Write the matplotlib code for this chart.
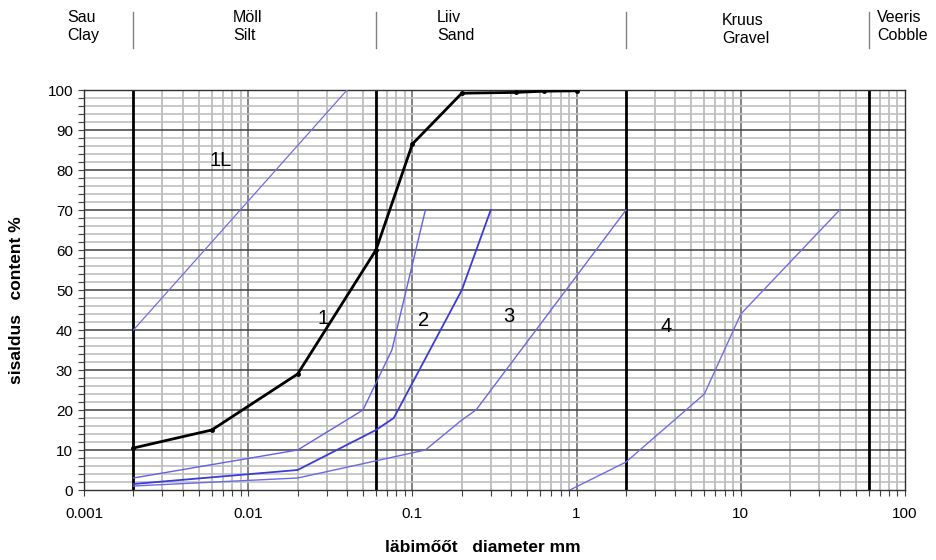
import numpy as np
import matplotlib
matplotlib.use('Agg')
import matplotlib.pyplot as plt
from matplotlib.ticker import FixedLocator, NullFormatter, FixedFormatter

plt.rcParams['font.family'] = ['Liberation Sans', 'DejaVu Sans']

# curve 1 (black, measured)
d1 = [0.002, 0.006, 0.02, 0.06, 0.1, 0.2, 0.425, 0.63, 1.0]
p1 = [10.5, 15, 29, 60, 86.5, 99.2, 99.4, 99.7, 99.8]

# blue boundary curves
d1L = [0.002, 0.04]
p1L = [40, 100]

d2a = [0.002, 0.02, 0.05, 0.075, 0.12]
p2a = [3, 10, 20, 35, 70]

d2 = [0.002, 0.02, 0.06, 0.077, 0.2, 0.3]
p2 = [1.5, 5, 15, 18, 50, 70]

d3 = [0.002, 0.02, 0.12, 0.2, 0.244, 2.0]
p3 = [1, 3, 10, 17.5, 20, 70]

d4 = [0.91, 2.0, 6.0, 10.0, 40.0]
p4 = [0, 7, 24, 44, 70]

# fraction boundaries
borders = [0.002, 0.06, 2, 60]
fractions = [('Sau\nClay', 67, 10), ('Möll\nSilt', 233, 10), ('Liiv\nSand', 437, 10),
             ('Kruus\nGravel', 722, 13), ('Veeris\nCobble', 877, 10)]

curve_labels = [('1L', 0.0068, 82.5), ('1', 0.0285, 43), ('2', 0.117, 42.5),
                ('3', 0.385, 43.5), ('4', 3.5, 41)]

W, H = 937, 560
fig = plt.figure(figsize=(W / 100, H / 100), dpi=100)
ax = fig.add_axes([84 / W, (H - 490) / H, (905 - 84) / W, 400 / H])
ax.set_xscale('log')
ax.set_xlim(0.001, 100)
ax.set_ylim(0, 100)

# grid
minor_x = [m * 10.0 ** e for e in range(-3, 2) for m in range(2, 10)]
for x in minor_x:
    ax.axvline(x, color='#b8b8b8', lw=1.2, zorder=1)
for x in [0.01, 0.1, 1, 10]:
    ax.axvline(x, color='#6e6e6e', lw=1.2, zorder=1)
for y in range(2, 100, 2):
    if y % 10:
        ax.axhline(y, color='#c0c0c0', lw=1.2, zorder=1)
    else:
        ax.axhline(y, color='#404040', lw=1.1, zorder=1)
for x in borders:
    ax.axvline(x, color='black', lw=2.0, zorder=2)

ax.plot(d1L, p1L, color='#6f6fe6', lw=0.9, zorder=3)
ax.plot(d2a, p2a, color='#6262e2', lw=1.0, zorder=3)
ax.plot(d2, p2, color='#3c3cd4', lw=1.3, zorder=3)
ax.plot(d3, p3, color='#6a6ae2', lw=1.0, zorder=3)
ax.plot(d4, p4, color='#6f6fe6', lw=1.0, zorder=3)
ax.plot(d1, p1, color='black', lw=2.0, marker='o', ms=2.5, zorder=4)

for txt, x, y in curve_labels:
    ax.text(x, y, txt, fontsize=14.5, ha='center', va='center', zorder=5)

# ticks
ax.xaxis.set_major_locator(FixedLocator([0.001, 0.01, 0.1, 1, 10, 100]))
ax.xaxis.set_major_formatter(FixedFormatter(['0.001', '0.01', '0.1', '1', '10', '100']))
ax.xaxis.set_minor_locator(FixedLocator(minor_x))
ax.xaxis.set_minor_formatter(NullFormatter())
ax.set_yticks(range(0, 101, 10))
ax.set_yticks(range(0, 101, 2), minor=True)
ax.tick_params(which='both', direction='out', length=4, width=0.8, color='#404040',
               labelsize=11, pad=4)
ax.tick_params(axis='x', pad=8)
for s in ax.spines.values():
    s.set_color('#303030')
    s.set_linewidth(1.0)

fig.text(483 / W, 1 - 548 / H, 'läbimőőt   diameter mm', fontsize=12.5, fontweight='bold',
         ha='center', va='center')
fig.text(17 / W, 1 - 300 / H, 'sisaldus   content %', fontsize=12.5, fontweight='bold',
         ha='center', va='center', rotation=90)

for txt, px, py in fractions:
    fig.text(px / W, 1 - py / H, txt, fontsize=11.5, ha='left', va='top', linespacing=1.25)
for x in borders:
    px = 84 + (np.log10(x) + 3) * 821 / 5
    fig.add_artist(plt.Line2D([px / W, px / W], [1 - 12 / H, 1 - 48 / H], color='#808080', lw=1.0))

fig.savefig('out.png', dpi=100)
